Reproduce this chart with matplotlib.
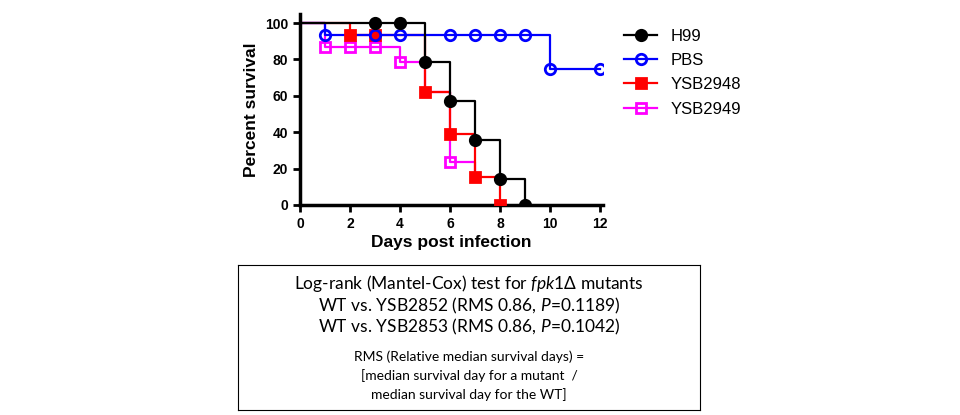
import matplotlib.pyplot as plt

plt.rcParams['mathtext.fontset'] = 'custom'
plt.rcParams['mathtext.it'] = 'Lato:italic'
plt.rcParams['mathtext.rm'] = 'Lato'

# Step curves (x where value starts, value)
h99_x = [0, 5, 6, 7, 8, 9]
h99_y = [100, 78.6, 57.1, 35.7, 14.3, 0]
h99_mx = [3, 4, 5, 6, 7, 8, 9]
h99_my = [100, 100, 78.6, 57.1, 35.7, 14.3, 0]

pbs_x = [0, 1, 10, 12]
pbs_y = [100, 93.3, 75, 75]
pbs_mx = [1, 3, 4, 6, 7, 8, 9, 10, 12]
pbs_my = [93.3, 93.3, 93.3, 93.3, 93.3, 93.3, 93.3, 75, 75]

r48_x = [0, 2, 5, 6, 7, 8]
r48_y = [100, 93.3, 62.2, 38.9, 15.6, 0]
r48_mx = [2, 3, 5, 6, 7, 8]
r48_my = [93.3, 93.3, 62.2, 38.9, 15.6, 0]

r49_x = [0, 1, 4, 5, 6, 7]
r49_y = [100, 86.7, 78.6, 62.2, 23.8, 15.6]
r49_mx = [1, 2, 3, 4, 6]
r49_my = [86.7, 86.7, 86.7, 78.6, 23.8]

fig = plt.figure(figsize=(9.6, 4.15), dpi=100)
ax = fig.add_axes([300 / 960, 1 - 205 / 415, 303 / 960, 191 / 415])

series = [
    (h99_x, h99_y, h99_mx, h99_my, 'black', 'o', 'black', 'H99'),
    (pbs_x, pbs_y, pbs_mx, pbs_my, '#0000ff', 'o', 'none', 'PBS'),
    (r48_x, r48_y, r48_mx, r48_my, '#ff0000', 's', '#ff0000', 'YSB2948'),
    (r49_x, r49_y, r49_mx, r49_my, '#ff00ff', 's', 'none', 'YSB2949'),
]
for sx, sy, mx, my, c, m, fc, lab in reversed(series):
    ax.step(sx, sy, where='post', color=c, lw=1.6, zorder=2)
    ax.plot(mx, my, ls='none', marker=m, ms=7.5, mfc=fc, mec=c, mew=2, zorder=3)

for sx, sy, mx, my, c, m, fc, lab in series:
    ax.plot([], [], color=c, lw=1.6, marker=m, ms=7.5, mfc=fc, mec=c, mew=2, label=lab)

ax.set_xlim(0, 12.12)
ax.set_ylim(0, 105)
ax.set_xticks(range(0, 13, 2))
ax.set_yticks(range(0, 101, 20))
for s in ['top', 'right']:
    ax.spines[s].set_visible(False)
for s in ['left', 'bottom']:
    ax.spines[s].set_linewidth(2.5)
ax.tick_params(width=2, length=5, labelsize=10)
fb = 'Liberation Sans'
for t in ax.get_xticklabels() + ax.get_yticklabels():
    t.set_fontweight('bold')
    t.set_family(fb)
ax.set_xlabel('Days post infection', fontsize=12.5, fontweight='bold', family=fb, labelpad=3)
ax.set_ylabel('Percent survival', fontsize=12.5, fontweight='bold', family=fb)
ax.legend(loc='upper left', bbox_to_anchor=(1.02, 1.0), frameon=False,
          prop={'family': fb, 'size': 12}, handlelength=2, labelspacing=0.55)

# text box
box = fig.add_axes([238 / 960, 1 - 410 / 415, 462 / 960, 145 / 415])
box.set_xticks([])
box.set_yticks([])
fn = 'Lato'
box.text(0.5, 0.87, r'Log-rank (Mantel-Cox) test for $\it{fpk1}$Δ mutants',
         ha='center', va='center', fontsize=12.5, family=fn)
box.text(0.5, 0.72, r'WT vs. YSB2852 (RMS 0.86, $\it{P}$=0.1189)',
         ha='center', va='center', fontsize=12.5, family=fn)
box.text(0.5, 0.57, r'WT vs. YSB2853 (RMS 0.86, $\it{P}$=0.1042)',
         ha='center', va='center', fontsize=12.5, family=fn)
box.text(0.5, 0.37, 'RMS (Relative median survival days) =',
         ha='center', va='center', fontsize=10, family=fn)
box.text(0.5, 0.24, '[median survival day for a mutant  /',
         ha='center', va='center', fontsize=10, family=fn)
box.text(0.5, 0.11, 'median survival day for the WT]',
         ha='center', va='center', fontsize=10, family=fn)

fig.savefig('out.png')
